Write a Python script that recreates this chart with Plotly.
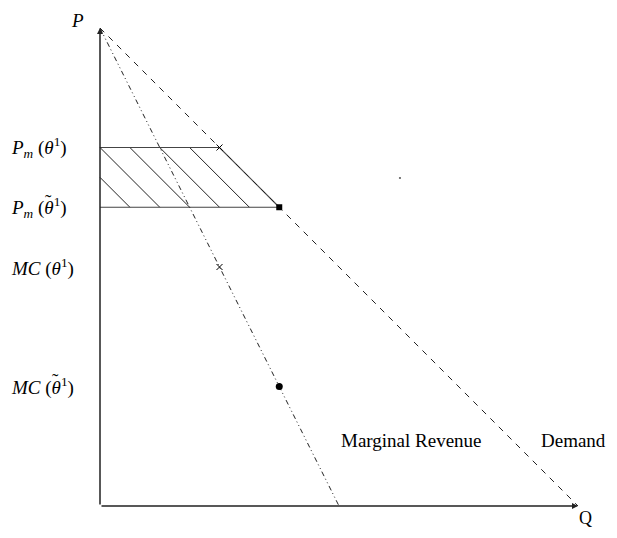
import plotly.graph_objects as go

# Curvas: demanda P = 8 - Q, ingreso marginal P = 8 - 2Q
demand_q = [0, 8]
demand_p = [8, 0]
mr_q = [0, 4]
mr_p = [8, 0]

# Equilibrios con theta^1 y theta~^1
q_eq = [2, 3]
p_eq = [6, 5]
mc_eq = [4, 2]

stray_q = [5.02]
stray_p = [5.49]

y_labels = ["<i>P<sub>m</sub></i> (<i>θ</i><sup>1</sup>)",
            "<i>P<sub>m</sub></i> (<i>θ</i><sup>1</sup>)",
            "<i>MC</i> (<i>θ</i><sup>1</sup>)",
            "<i>MC</i> (<i>θ</i><sup>1</sup>)"]
y_label_vals = [p_eq[0], p_eq[1], mc_eq[0], mc_eq[1]]
# tilde sobre theta en las etiquetas 2 y 4 (posicion x en pixeles de ventana)
tilde_vals = [p_eq[1], mc_eq[1]]
tilde_px = [48, 55]

FONT = "Liberation Serif"
INK = "#222222"

# pagina: el cuerpo html tiene 8px de margen
W, H = 601, 522
X0, Y0, S = 92, 498, 59.75

fig = go.Figure()

# rayado del area entre los dos precios (paralelo a la demanda)
p_hi, p_lo = p_eq
hx, hy = [], []
c = p_lo + 0.5
while c < demand_p[0] - 1e-9:
    q0 = max(0, c - p_hi)
    q1 = c - p_lo
    hx += [q0, q1, None]
    hy += [c - q0, c - q1, None]
    c += 0.5
fig.add_trace(go.Scatter(x=hx, y=hy, mode="lines",
                         line=dict(color=INK, width=1), hoverinfo="skip"))

# bordes del area
fig.add_trace(go.Scatter(x=[0, q_eq[0], q_eq[1], 0], y=[p_eq[0], p_eq[0], p_eq[1], p_eq[1]],
                         mode="lines", line=dict(color="#444444", width=1.2)))

fig.add_trace(go.Scatter(x=demand_q, y=demand_p, mode="lines",
                         line=dict(color=INK, width=1, dash="6px,6px")))
fig.add_trace(go.Scatter(x=mr_q, y=mr_p, mode="lines",
                         line=dict(color=INK, width=1, dash="5px,3px,1px,3px,1px,3px")))

fig.add_trace(go.Scatter(x=[q_eq[0], q_eq[0]], y=[p_eq[0], mc_eq[0]], mode="markers",
                         marker=dict(symbol="x-thin", size=6, line=dict(color="black", width=1))))
fig.add_trace(go.Scatter(x=[q_eq[1]], y=[p_eq[1]], mode="markers",
                         marker=dict(symbol="square", size=6, color="black")))
fig.add_trace(go.Scatter(x=[q_eq[1]], y=[mc_eq[1]], mode="markers",
                         marker=dict(symbol="circle", size=7, color="black")))
fig.add_trace(go.Scatter(x=stray_q, y=stray_p, mode="markers",
                         marker=dict(symbol="square", size=2, color="#777777")))

# ejes con flecha
for ax_, ay_, x_, y_ in [(0, 0, 0, 8), (0, 0, 8, 0)]:
    fig.add_annotation(x=x_, y=y_, ax=ax_, ay=ay_, xref="x", yref="y", axref="x", ayref="y",
                       showarrow=True, arrowhead=2, arrowsize=0.8, arrowwidth=1.5,
                       arrowcolor=INK, text="")

fig.add_annotation(x=-0.385, y=8.13, text="<i>P</i>", showarrow=False,
                   font=dict(family=FONT, size=19, color="black"))
fig.add_annotation(x=8.12, y=-0.40, yanchor="bottom", text="Q", showarrow=False,
                   font=dict(family=FONT, size=18, color="black"))
fig.add_annotation(x=5.22, y=1.09, text="Marginal Revenue", showarrow=False,
                   font=dict(family=FONT, size=19, color="black"))
fig.add_annotation(x=8.50, y=1.09, xanchor="right", text="Demand", showarrow=False,
                   font=dict(family=FONT, size=19, color="black"))
for lab, v in zip(y_labels, y_label_vals):
    fig.add_annotation(x=-1.52, y=v, text=lab, showarrow=False, xanchor="left",
                       font=dict(family=FONT, size=19, color="black"))
for v, px in zip(tilde_vals, tilde_px):
    fig.add_annotation(x=(px - 100) / S, y=v + 0.1, text="˜", showarrow=False,
                       font=dict(family=FONT, size=19, color="black"))

fig.update_layout(
    width=W, height=H,
    margin=dict(l=0, r=0, t=0, b=0),
    plot_bgcolor="white", paper_bgcolor="white",
    showlegend=False,
    xaxis=dict(range=[-X0 / S, (W - X0) / S], visible=False),
    yaxis=dict(range=[(Y0 - H) / S, Y0 / S], visible=False),
)
fig.write_html("out.html")
